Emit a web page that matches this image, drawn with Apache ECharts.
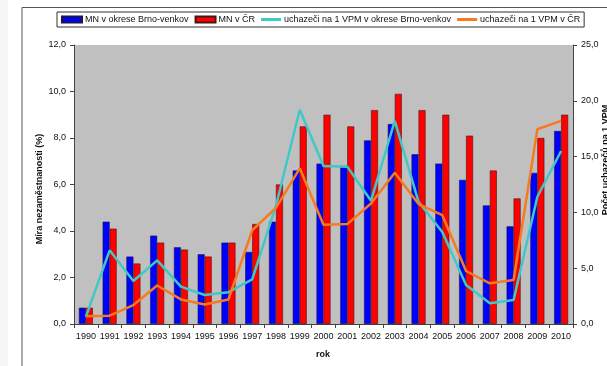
<!DOCTYPE html>
<html>
<head>
<meta charset="utf-8">
<script src="https://cdn.jsdelivr.net/npm/echarts@6/dist/echarts.min.js"></script>
<style>html,body{margin:0;padding:0;background:#fff;}#c{width:607px;height:366px;}</style>
</head>
<body>
<div id="c"></div>
<script>
var years = ['1990','1991','1992','1993','1994','1995','1996','1997','1998','1999','2000','2001','2002','2003','2004','2005','2006','2007','2008','2009','2010'];
var mnBrno = [0.7,4.4,2.9,3.8,3.3,3.0,3.5,3.1,4.4,6.6,6.9,6.8,7.9,8.6,7.3,6.9,6.2,5.1,4.2,6.5,8.3];
var mnCR = [0.7,4.1,2.6,3.5,3.2,2.9,3.5,4.3,6.0,8.5,9.0,8.5,9.2,9.9,9.2,9.0,8.1,6.6,5.4,8.0,9.0];
var vpmBrno = [0.65,6.6,3.85,5.7,3.35,2.6,2.85,4.0,10.6,19.2,14.15,14.1,11.05,18.2,10.95,8.25,3.5,1.85,2.15,11.4,15.5];
var vpmCR = [0.7,0.75,1.7,3.45,2.2,1.75,2.2,8.4,10.4,13.95,8.9,8.95,10.8,13.55,10.75,9.75,4.75,3.65,3.95,17.45,18.2];
var leftTicks = {min:0, max:12, interval:2};
var rightTicks = {min:0, max:25, interval:5};

var fmt = function(v){ return v.toFixed(1).replace('.', ','); };
var FONT = 'Liberation Sans, Arial, sans-serif';
var lineIcon = 'path://M0,0h20v3h-20z';
var chart = echarts.init(document.getElementById('c'));
chart.setOption({
  animation: false,
  backgroundColor: '#ffffff',
  textStyle: {fontFamily: FONT},
  graphic: [
    {type:'rect', shape:{x:0,y:0,width:8,height:366}, style:{fill:'#f6f6f6'}, silent:true, z:-10},
    {type:'rect', shape:{x:22,y:7.5,width:600,height:400}, style:{fill:'none', stroke:'#555', lineWidth:1}, silent:true, z:-5},
    {type:'text', rotation:Math.PI/2, position:[40,189], style:{text:'Míra nezaměstnanosti (%)', fill:'#111', font:'bold 9px '+FONT, textAlign:'center', textVerticalAlign:'middle'}, silent:true},
    {type:'text', rotation:Math.PI/2, position:[606,160], style:{text:'Počet uchazečů na 1 VPM', fill:'#111', font:'bold 9px '+FONT, textAlign:'center', textVerticalAlign:'middle'}, silent:true},
    {type:'text', position:[323,355], style:{text:'rok', fill:'#111', font:'bold 9px '+FONT, textAlign:'center', textVerticalAlign:'middle'}, silent:true}
  ],
  legend: {
    top: 12, left: 57,
    itemGap: 6, itemWidth: 20, itemHeight: 6,
    padding: [3, 4, 3, 4],
    borderColor: '#333', borderWidth: 1, backgroundColor: '#fff',
    textStyle: {fontSize: 9, color: '#111', fontFamily: FONT, padding:[0,0,0,-2]},
    data: [
      {name:'MN v okrese Brno-venkov', icon:'rect'},
      {name:'MN v ČR', icon:'rect'},
      {name:'uchazeči na 1 VPM v okrese Brno-venkov', icon: lineIcon},
      {name:'uchazeči na 1 VPM v ČR', icon: lineIcon}
    ]
  },
  grid: {left: 74, right: 34, top: 45, bottom: 42, show: true, backgroundColor: '#c0c0c0', borderWidth: 0},
  xAxis: {
    type: 'category', data: years, boundaryGap: true,
    axisLine: {lineStyle: {color: '#444', width: 1}},
    axisTick: {show: true, interval: 0, length: 4, lineStyle: {color: '#444'}},
    axisLabel: {fontSize: 9, color: '#111', margin: 8, interval: 0}
  },
  yAxis: [
    {type: 'value', min: leftTicks.min, max: leftTicks.max, interval: leftTicks.interval,
     splitLine: {show: false},
     axisLine: {show: true, lineStyle: {color: '#444'}},
     axisTick: {show: true, length: 4, lineStyle: {color: '#444'}},
     axisLabel: {fontSize: 9, color: '#111', formatter: fmt, margin: 8}},
    {type: 'value', min: rightTicks.min, max: rightTicks.max, interval: rightTicks.interval, position: 'right',
     splitLine: {show: false},
     axisLine: {show: true, lineStyle: {color: '#444'}},
     axisTick: {show: true, length: 4, lineStyle: {color: '#444'}},
     axisLabel: {fontSize: 9, color: '#111', formatter: fmt, margin: 8}}
  ],
  series: [
    {name:'MN v okrese Brno-venkov', type:'bar', data: mnBrno, barWidth: 7, barGap: '0%',
     itemStyle: {color:'#0000ff', borderColor:'#1a1a40', borderWidth:0.6}},
    {name:'MN v ČR', type:'bar', data: mnCR, barWidth: 7, barGap: '0%',
     itemStyle: {color:'#ff0000', borderColor:'#401a1a', borderWidth:0.6}},
    {name:'uchazeči na 1 VPM v okrese Brno-venkov', type:'line', yAxisIndex:1, data: vpmBrno,
     symbol:'none', lineStyle:{color:'#40c8c8', width:2.5}, itemStyle:{color:'#40c8c8'}, z:5},
    {name:'uchazeči na 1 VPM v ČR', type:'line', yAxisIndex:1, data: vpmCR,
     symbol:'none', lineStyle:{color:'#f57a22', width:2.5}, itemStyle:{color:'#f57a22'}, z:6}
  ]
});
</script>
</body>
</html>
